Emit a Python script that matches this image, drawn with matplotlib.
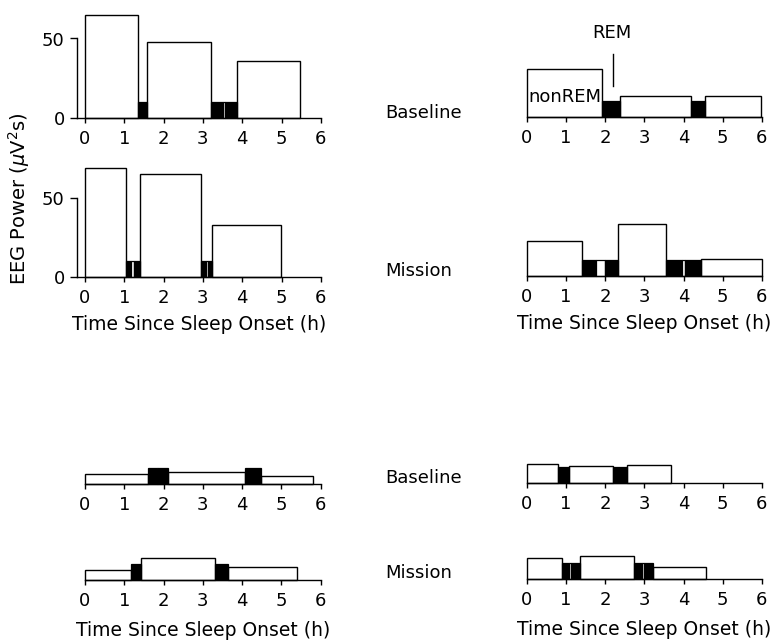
import matplotlib
matplotlib.use('Agg')
import matplotlib.pyplot as plt

# Values: episode start/end in hours, power in uV^2 s
# top-left, baseline
a_nrem_start = [0.0, 1.59, 3.86]
a_nrem_end = [1.36, 3.20, 5.47]
a_nrem_power = [65, 48, 36]
a_rem_start = [1.36, 3.20, 3.50, 3.57]
a_rem_end = [1.59, 3.50, 3.57, 3.86]
a_rem_fill = ['k', 'k', 'w', 'k']

# top-left, mission
b_nrem_start = [0.0, 1.40, 3.24]
b_nrem_end = [1.035, 2.95, 4.98]
b_nrem_power = [69, 65, 33]
b_rem_start = [1.035, 1.17, 1.25, 2.95, 3.07, 3.13]
b_rem_end = [1.17, 1.25, 1.40, 3.07, 3.13, 3.24]
b_rem_fill = ['k', 'w', 'k', 'k', 'w', 'k']

# top-right, baseline
c_nrem_start = [0.0, 2.38, 4.55]
c_nrem_end = [1.93, 4.19, 5.98]
c_nrem_power = [30, 13, 13]
c_rem_start = [1.93, 4.19]
c_rem_end = [2.38, 4.55]
c_rem_fill = ['k', 'k']

# top-right, mission
d_nrem_start = [0.0, 2.34, 4.44]
d_nrem_end = [1.42, 3.56, 6.0]
d_nrem_power = [22, 33, 11]
d_rem_start = [1.42, 1.77, 2.00, 3.56, 3.96, 4.05]
d_rem_end = [1.77, 2.00, 2.34, 3.96, 4.05, 4.44]
d_rem_fill = ['k', 'w', 'k', 'k', 'w', 'k']

# bottom-left, baseline
e_nrem_start = [0.0, 2.10, 4.48]
e_nrem_end = [1.60, 4.07, 5.81]
e_nrem_power = [6.3, 8, 5.2]
e_rem_start = [1.60, 1.82, 1.87, 4.07]
e_rem_end = [1.82, 1.87, 2.10, 4.48]
e_rem_fill = ['k', 'w', 'k', 'k']

# bottom-left, mission
f_nrem_start = [0.0, 1.42, 3.65]
f_nrem_end = [1.17, 3.31, 5.39]
f_nrem_power = [6, 14, 8.4]
f_rem_start = [1.17, 3.31]
f_rem_end = [1.42, 3.65]
f_rem_fill = ['k', 'k']

# bottom-right, baseline
g_nrem_start = [0.0, 1.09, 2.55]
g_nrem_end = [0.81, 2.19, 3.68]
g_nrem_power = [12, 11, 11.5]
g_rem_start = [0.81, 2.19]
g_rem_end = [1.09, 2.55]
g_rem_fill = ['k', 'k']

# bottom-right, mission
h_nrem_start = [0.0, 1.36, 3.22]
h_nrem_end = [0.91, 2.74, 4.58]
h_nrem_power = [13, 14.7, 7.3]
h_rem_start = [0.91, 1.09, 1.12, 2.74, 2.93, 2.99]
h_rem_end = [1.09, 1.12, 1.36, 2.93, 2.99, 3.22]
h_rem_fill = ['k', 'w', 'k', 'k', 'w', 'k']

rem_power = 10
hour_ticks = [0, 1, 2, 3, 4, 5, 6]
power_ticks = [0, 50]

W, H = 776, 644
plt.rcParams['font.family'] = 'DejaVu Sans'
plt.rcParams['font.size'] = 13
fig = plt.figure(figsize=(W / 100, H / 100), dpi=100)

YMAX = 70
PX_PER_UNIT = 1.59


def add_panel(x0_px, px_per_h, base_px, with_y, nrem, rem):
    # x0_px: pixel of t=0, base_px: pixel row of power=0
    xmin = -0.2 if with_y else 0.0
    left = x0_px + xmin * px_per_h
    width = (6 - xmin) * px_per_h
    height = YMAX * PX_PER_UNIT
    ax = fig.add_axes([left / W, 1 - base_px / H, width / W, height / H])
    ns, ne, npow = nrem
    rs, re, rf = rem
    ax.bar(ns, npow, width=[e - s for s, e in zip(ns, ne)], align='edge',
           facecolor='white', edgecolor='black', linewidth=1.0, clip_on=False)
    ax.bar(rs, [rem_power] * len(rs), width=[e - s for s, e in zip(rs, re)],
           align='edge', color=rf, edgecolor='black', linewidth=0.9, clip_on=False)
    ax.set_xlim(xmin, 6)
    ax.set_ylim(0, YMAX)
    ax.set_xticks(hour_ticks)
    ax.tick_params(axis='x', direction='out', length=3.5, width=1.0, pad=5)
    ax.spines['top'].set_visible(False)
    ax.spines['right'].set_visible(False)
    ax.spines['bottom'].set_linewidth(1.0)
    ax.patch.set_alpha(0)
    if with_y:
        ax.set_yticks(power_ticks)
        ax.spines['left'].set_bounds(0, 50)
        ax.spines['left'].set_linewidth(1.0)
        ax.tick_params(axis='y', direction='out', length=5, width=1.0, pad=4)
    else:
        ax.spines['left'].set_visible(False)
        ax.set_yticks([])
    return ax


ax_a = add_panel(85, 39.3, 118, True, (a_nrem_start, a_nrem_end, a_nrem_power),
                 (a_rem_start, a_rem_end, a_rem_fill))
ax_b = add_panel(85, 39.3, 277.3, True, (b_nrem_start, b_nrem_end, b_nrem_power),
                 (b_rem_start, b_rem_end, b_rem_fill))
ax_c = add_panel(526.7, 39.2, 116.7, False, (c_nrem_start, c_nrem_end, c_nrem_power),
                 (c_rem_start, c_rem_end, c_rem_fill))
ax_d = add_panel(526.7, 39.2, 276, False, (d_nrem_start, d_nrem_end, d_nrem_power),
                 (d_rem_start, d_rem_end, d_rem_fill))
ax_e = add_panel(85, 39.3, 484.3, False, (e_nrem_start, e_nrem_end, e_nrem_power),
                 (e_rem_start, e_rem_end, e_rem_fill))
ax_f = add_panel(85, 39.3, 580, False, (f_nrem_start, f_nrem_end, f_nrem_power),
                 (f_rem_start, f_rem_end, f_rem_fill))
ax_g = add_panel(526.7, 39.2, 483.3, False, (g_nrem_start, g_nrem_end, g_nrem_power),
                 (g_rem_start, g_rem_end, g_rem_fill))
ax_h = add_panel(526.7, 39.2, 579, False, (h_nrem_start, h_nrem_end, h_nrem_power),
                 (h_rem_start, h_rem_end, h_rem_fill))

# annotations inside top-right baseline panel
ax_c.text(0.05, 12.6, 'nonREM', ha='left', va='center')
ax_c.text(2.17, 52.8, 'REM', ha='center', va='center', clip_on=False)
ax_c.plot([2.19, 2.19], [19.3, 39.4], color='black', lw=1.0, clip_on=False)

xlab = 'Time Since Sleep Onset (h)'
for ax in (ax_b, ax_d):
    ax.set_xlabel(xlab, labelpad=6, fontsize=13.5)
for ax in (ax_f, ax_h):
    ax.set_xlabel(xlab, labelpad=8, fontsize=13.5)


def fig_text(x, y, s, **kw):
    fig.text(x / W, 1 - y / H, s, **kw)


fig_text(385, 113, 'Baseline', ha='left', va='center')
fig_text(385, 271, 'Mission', ha='left', va='center')
fig_text(385, 478, 'Baseline', ha='left', va='center')
fig_text(385, 573, 'Mission', ha='left', va='center')
fig_text(19, 199, 'EEG Power ($\\mu$V$^2$s)', rotation=90, ha='center',
         va='center', fontsize=14)

fig.savefig('out.png', dpi=100)
